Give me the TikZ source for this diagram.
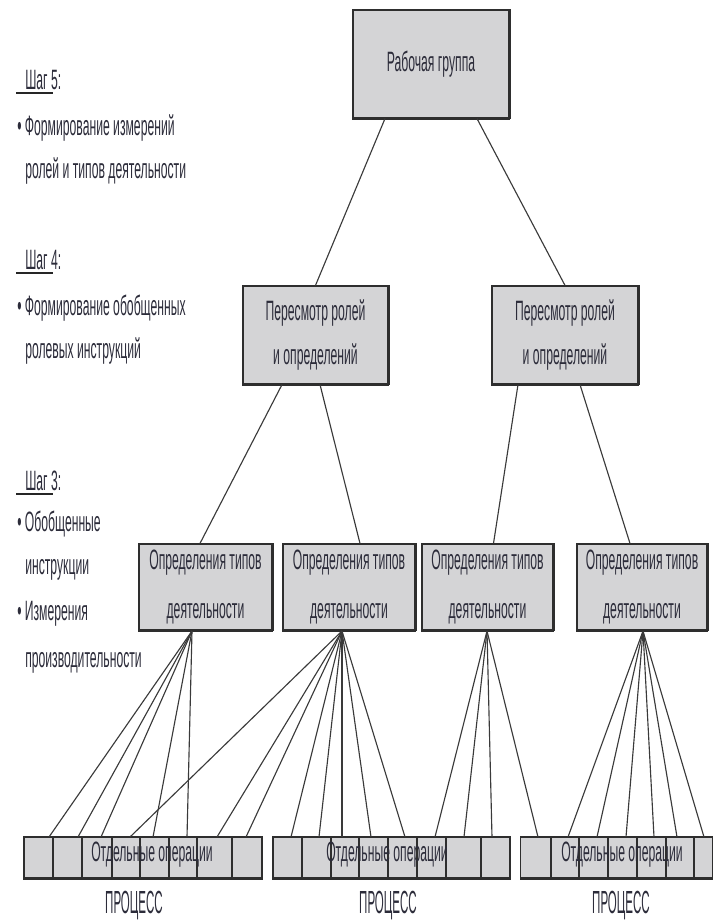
\documentclass[tikz,border=0pt]{standalone}
\usepackage{fontspec}
\setmainfont{Liberation Sans}[FakeStretch=0.435]
\newfontfamily\procfont{Liberation Sans}[FakeStretch=0.36]
\usetikzlibrary{calc}

\definecolor{boxfill}{HTML}{D4D4D6}
\definecolor{boxline}{HTML}{2E2E2E}
\definecolor{wirecol}{HTML}{3A3A3A}
\definecolor{ink}{HTML}{2C2C3A}

\newcommand\boxfont{\fontsize{21}{33}\selectfont}
\newcommand\actfont{\fontsize{21}{37}\selectfont}
\newcommand\sidefont{\fontsize{21}{33}\selectfont}

\begin{document}
\begin{tikzpicture}[x=0.75pt,y=-0.75pt,
  size/.style 2 args={minimum width=#1*0.75pt, minimum height=#2*0.75pt},
  box/.style={draw=boxline, fill=boxfill, line width=0.9pt, inner sep=0pt,
    align=center, text=ink, font=\boxfont},
  actbox/.style={box, font=\actfont},
  bar/.style={draw=boxline, fill=boxfill, line width=0.9pt, inner sep=0pt},
  cellline/.style={draw=boxline, line width=0.8pt},
  wire/.style={draw=wirecol, line width=0.85pt},
  side/.style={anchor=base west, inner sep=0pt, text=ink, font=\sidefont},
  bartext/.style={inner sep=0pt, text=ink, font=\boxfont},
  proctext/.style={inner sep=0pt, text=ink, font={\procfont\fontsize{24}{28}\selectfont}},
  steprule/.style={line width=2.2pt, draw=black!85},
]
\useasboundingbox (0,0) rectangle (713,922);

% ---- hierarchy boxes ----
\node[box, size={156}{108}] (top) at (431,64) {Рабочая группа};
\node[box, size={145}{98}] (rv1) at (315.5,335) {Пересмотр ролей\\и определений};
\node[box, size={146}{98}] (rv2) at (565,335) {Пересмотр ролей\\и определений};
\node[actbox, size={133}{86}] (opA) at (205.5,587) {Определения типов\\деятельности};
\node[actbox, size={132}{86}] (opB) at (349,587) {Определения типов\\деятельности};
\node[actbox, size={131}{86}] (opC) at (487.5,587) {Определения типов\\деятельности};
\node[actbox, size={130}{86}] (opD) at (642,587) {Определения типов\\деятельности};

% heavier lower and right edges
\foreach \n in {top,rv1,rv2,opA,opB,opC,opD}{
  \draw[boxline, line width=2pt] (\n.south west) -- (\n.south east);
  \draw[boxline, line width=1.4pt] (\n.south east) -- (\n.north east);
}

% ---- links between levels ----
\draw[wire] ($(top.south)+(-46,0)$) -- (rv1.north);
\draw[wire] ($(top.south)+(46,0)$) -- (rv2.north);
\draw[wire] ($(rv1.south)+(-33.5,0)$) -- ($(opA.north)+(-5.5,0)$);
\draw[wire] ($(rv1.south)+(4.5,0)$) -- ($(opB.north)+(11,0)$);
\draw[wire] ($(rv2.south)+(-47,0)$) -- ($(opC.north)+(6,0)$);
\draw[wire] ($(rv2.south)+(15,0)$) -- ($(opD.north)+(-12,0)$);

% ---- process bars with operation cells ----
\node[bar, size={238}{41}] (bar1) at (143,857.5) {};
\node[bar, size={237}{41}] (bar2) at (391.5,857.5) {};
\node[bar, size={192}{41}] (bar3) at (616.75,857.5) {};
\foreach \n in {bar1,bar2,bar3}
  \draw[boxline, line width=2pt] (\n.south west) -- (\n.south east);
\foreach \x in {53,82,112,140,169,197,232, 302,331,359,388,417,446,481, 551,579,608,637,666,694}
  \draw[cellline] (\x,837) -- (\x,878);

% ---- fan-out from activity boxes to operations ----
\coordinate (pA) at (192,631);
\coordinate (pB) at (342,631);
\coordinate (pC) at (487,631);
\coordinate (pD) at (643,631);
\foreach \x in {49,78,101,153,187}
  \draw[wire] (pA) -- (\x,837);
\foreach \x in {130,217,246,291,319,342,371,405}
  \draw[wire] (pB) -- (\x,837);
\foreach \x in {435,464,492,538}
  \draw[wire] (pC) -- (\x,837);
\foreach \x in {568,597,626,654,677,704}
  \draw[wire] (pD) -- (\x,837);

% ---- bar captions ----
\node[bartext] (t1) at (152,855) {Отдельные операции};
\node[bartext] (t2) at (387,855) {Отдельные операции};
\node[bartext] (t3) at (622,855) {Отдельные операции};
\node[proctext] (p1) at (134,906) {ПРОЦЕСС};
\node[proctext] (p2) at (388,906) {ПРОЦЕСС};
\node[proctext] (p3) at (621,906) {ПРОЦЕСС};

% ---- step descriptions ----
\node[side] (s5) at (25,89) {Шаг 5:};
\draw[steprule] (16,93) -- (53,93);
\node[side] (s5a) at (17,135) {• Формирование измерений};
\node[side] (s5b) at (25,178) {ролей и типов деятельности};

\node[side] (s4) at (25,269) {Шаг 4:};
\draw[steprule] (16,273) -- (53,273);
\node[side] (s4a) at (17,315) {• Формирование обобщенных};
\node[side] (s4b) at (25,358) {ролевых инструкций};

\node[side] (s3) at (25,490) {Шаг 3:};
\draw[steprule] (16,494) -- (53,494);
\node[side] (s3a) at (17,531) {• Обобщенные};
\node[side] (s3b) at (25,574) {инструкции};
\node[side] (s3c) at (17,620) {• Измерения};
\node[side] (s3d) at (25,667) {производительности};
\end{tikzpicture}
\end{document}
